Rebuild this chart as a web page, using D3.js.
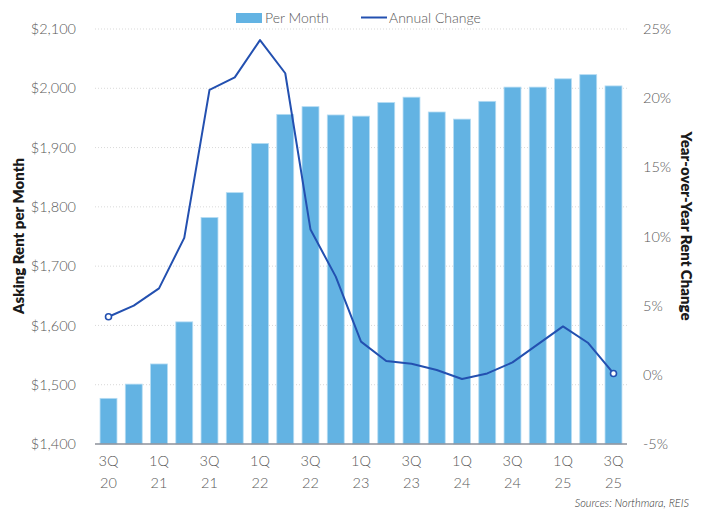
<!DOCTYPE html>
<html>
<head>
<meta charset="utf-8">
<script src="https://cdn.jsdelivr.net/npm/d3@7"></script>
<style>
  html, body { margin: 0; padding: 0; background: #fff; }
  svg { display: block; }
  text { font-family: "Lato", "Noto Sans", sans-serif; }
</style>
</head>
<body>
<svg id="chart" width="707" height="511"></svg>
<script>
// Quarterly asking rent (left axis) and year-over-year change (right axis)
const quarters = ["3Q20","4Q20","1Q21","2Q21","3Q21","4Q21","1Q22","2Q22","3Q22","4Q22",
                  "1Q23","2Q23","3Q23","4Q23","1Q24","2Q24","3Q24","4Q24","1Q25","2Q25","3Q25"];
const rentPerMonth = [1477, 1501, 1535, 1606, 1782, 1824, 1907, 1956, 1969, 1955,
                      1953, 1976, 1985, 1960, 1948, 1978, 2002, 2002, 2016, 2023, 2004];
const annualChange = [4.2, 5.0, 6.25, 9.9, 20.6, 21.5, 24.2, 21.8, 10.5, 7.1,
                      2.4, 1.0, 0.8, 0.35, -0.3, 0.1, 0.9, 2.2, 3.5, 2.3, 0.1];
const leftTicks = [1400, 1500, 1600, 1700, 1800, 1900, 2000, 2100];
const rightTicks = [-5, 0, 5, 10, 15, 20, 25];

const svg = d3.select("#chart");
const m = { left: 95, right: 627, top: 29, bottom: 444 };

const x = d3.scaleBand().domain(quarters).range([m.left, m.right]).paddingInner(0.33).paddingOuter(0.2);
const yL = d3.scaleLinear().domain([1400, 2100]).range([m.bottom, m.top]);
const yR = d3.scaleLinear().domain([-5, 25]).range([m.bottom, m.top]);

const textCol = "#595959";
const barCol = "#63b3e3";
const lineCol = "#2350b0";

// dotted gridlines
svg.append("g").selectAll("line").data(leftTicks.slice(1)).join("line")
  .attr("x1", m.left).attr("x2", m.right)
  .attr("y1", d => yL(d)).attr("y2", d => yL(d))
  .attr("stroke", "#d9d9d9").attr("stroke-width", 1).attr("stroke-dasharray", "1,2");

// bars
svg.append("g").selectAll("rect").data(quarters).join("rect")
  .attr("x", d => x(d))
  .attr("width", x.bandwidth())
  .attr("y", (d, i) => yL(rentPerMonth[i]))
  .attr("height", (d, i) => yL(1400) - yL(rentPerMonth[i]))
  .attr("fill", barCol)
  .attr("stroke", "#b5dcf3").attr("stroke-width", 0.8);

// bottom axis line
svg.append("line").attr("x1", m.left).attr("x2", m.right)
  .attr("y1", m.bottom).attr("y2", m.bottom)
  .attr("stroke", "#8c909a").attr("stroke-width", 1.5);

// left axis
const axL = d3.axisLeft(yL).tickValues(leftTicks).tickSize(0).tickPadding(0)
  .tickFormat(d => "$" + d3.format(",")(d));
const gL = svg.append("g").attr("transform", `translate(${m.left - 19},0)`).call(axL);
gL.select(".domain").remove();
gL.selectAll("text").attr("fill", textCol).attr("font-size", 14.5).attr("font-weight", 300);

// right axis
const axR = d3.axisRight(yR).tickValues(rightTicks).tickSize(0).tickPadding(0)
  .tickFormat(d => d + "%");
const gR = svg.append("g").attr("transform", `translate(${m.right + 16},0)`).call(axR);
gR.select(".domain").remove();
gR.selectAll("text").attr("fill", textCol).attr("font-size", 14.5).attr("font-weight", 300);

// x labels on alternate quarters, two lines each
const xLab = svg.append("g").selectAll("text")
  .data(quarters.filter((d, i) => i % 2 === 0)).join("text")
  .attr("x", d => x(d) + x.bandwidth() / 2)
  .attr("y", 466)
  .attr("text-anchor", "middle")
  .attr("fill", textCol).attr("font-size", 14.5).attr("font-weight", 300);
xLab.append("tspan").attr("x", d => x(d) + x.bandwidth() / 2).text(d => d.slice(0, 2));
xLab.append("tspan").attr("x", d => x(d) + x.bandwidth() / 2).attr("dy", 22).text(d => d.slice(2));

// annual change line
const line = d3.line()
  .x((d, i) => x(quarters[i]) + x.bandwidth() / 2)
  .y(d => yR(d));
svg.append("path").datum(annualChange)
  .attr("d", line).attr("fill", "none")
  .attr("stroke", lineCol).attr("stroke-width", 2).attr("stroke-linejoin", "round");

// open markers at the ends
const ends = [0, annualChange.length - 1];
svg.append("g").selectAll("circle").data(ends).join("circle")
  .attr("cx", i => x(quarters[i]) + x.bandwidth() / 2)
  .attr("cy", i => yR(annualChange[i]))
  .attr("r", 3).attr("fill", "#fff")
  .attr("stroke", lineCol).attr("stroke-width", 1.6);

// axis titles
svg.append("text")
  .attr("transform", "translate(24,236) rotate(-90)")
  .attr("text-anchor", "middle").attr("font-size", 15).attr("font-weight", 800)
  .attr("fill", "#1a1a1a").text("Asking Rent per Month");
svg.append("text")
  .attr("transform", "translate(681,226) rotate(90)")
  .attr("text-anchor", "middle").attr("font-size", 15).attr("font-weight", 800)
  .attr("fill", "#1a1a1a").text("Year-over-Year Rent Change");

// legend
const lg = svg.append("g");
lg.append("rect").attr("x", 236).attr("y", 13).attr("width", 26).attr("height", 10).attr("fill", barCol);
lg.append("text").attr("x", 265).attr("y", 23).attr("font-size", 14).attr("font-weight", 300)
  .attr("fill", textCol).text("Per Month");
lg.append("line").attr("x1", 361).attr("x2", 387).attr("y1", 17.5).attr("y2", 17.5)
  .attr("stroke", lineCol).attr("stroke-width", 2);
lg.append("text").attr("x", 389).attr("y", 23).attr("font-size", 14).attr("font-weight", 300)
  .attr("fill", textCol).text("Annual Change");

// source note
svg.append("text").attr("x", 689).attr("y", 507).attr("text-anchor", "end")
  .attr("font-size", 11).attr("font-style", "italic").attr("font-weight", 300)
  .attr("fill", "#333").text("Sources: Northmara, REIS");
</script>
</body>
</html>
